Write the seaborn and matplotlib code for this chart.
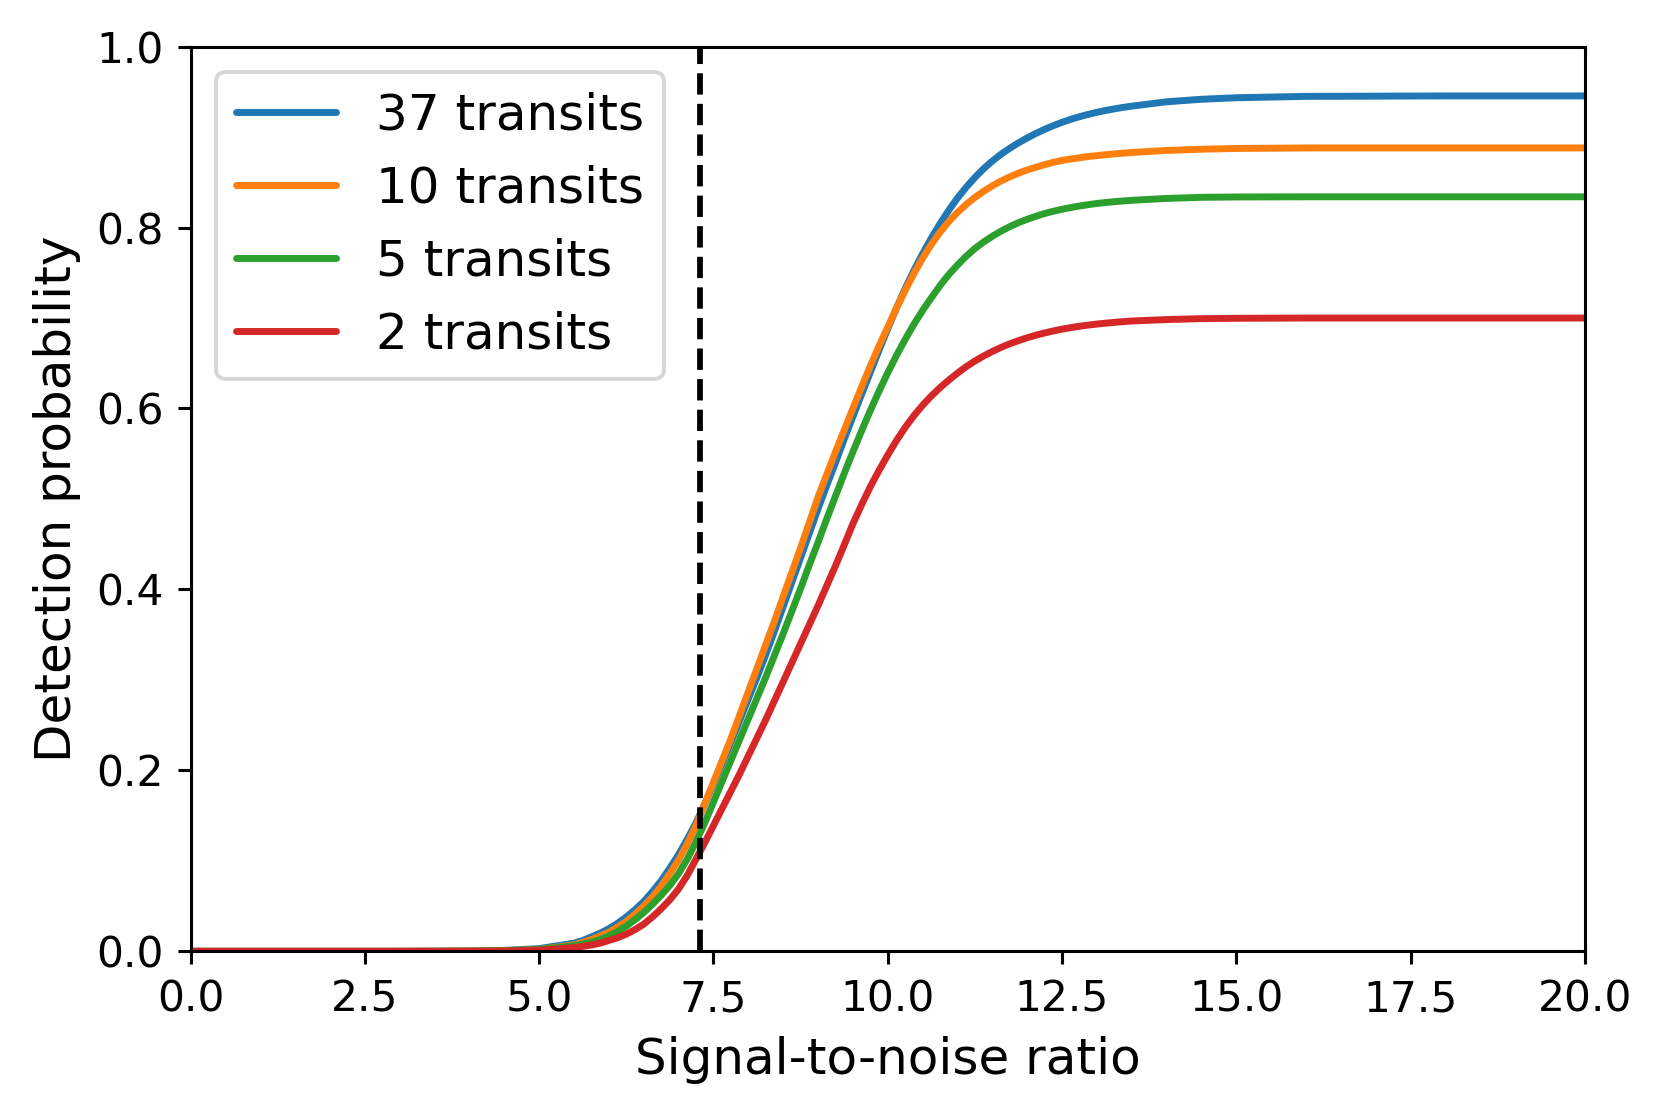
import numpy as np
import pandas as pd
import seaborn as sns
import matplotlib.pyplot as plt

# values (0.125 steps where the curves bend)
snr = [0, 1, 2, 3, 4, 4.5, 5,
       5.5, 5.625, 5.75, 5.875, 6, 6.125, 6.25, 6.375, 6.5, 6.625, 6.75, 6.875,
       7, 7.125, 7.25, 7.375, 7.5, 7.625, 7.75, 7.875, 8, 8.125, 8.25, 8.375,
       8.5, 8.625, 8.75, 8.875, 9, 9.125, 9.25, 9.375, 9.5, 9.625, 9.75, 9.875,
       10, 10.125, 10.25, 10.375, 10.5, 10.625, 10.75, 10.875, 11, 11.125, 11.25,
       11.375, 11.5, 11.625, 11.75, 11.875, 12, 12.125, 12.25, 12.375, 12.5,
       12.625, 12.75, 12.875, 13, 13.125, 13.25, 13.375, 13.5,
       14, 14.5, 15, 16, 18, 20]

p37 = [0, 0, 0, 0, 0.0003, 0.001, 0.003,
       0.009, 0.012, 0.016, 0.020, 0.025, 0.031, 0.038, 0.046, 0.055, 0.066, 0.078,
       0.092, 0.107, 0.124, 0.142, 0.163, 0.185, 0.208, 0.231, 0.255, 0.279, 0.303,
       0.328, 0.354, 0.381, 0.408, 0.435, 0.462, 0.489, 0.515, 0.540, 0.566, 0.591,
       0.6156, 0.640, 0.6643, 0.688, 0.7109, 0.7324, 0.7524, 0.7709, 0.7882, 0.8042,
       0.819, 0.8325, 0.8445, 0.8553, 0.8650, 0.8735, 0.8810, 0.8876, 0.8936,
       0.8990, 0.9040, 0.9085, 0.9126, 0.9163, 0.9196, 0.9225, 0.9251, 0.9274,
       0.9294, 0.9312, 0.9328, 0.9342,
       0.9390, 0.9418, 0.9435, 0.9450, 0.9455, 0.9455]
p10 = [0, 0, 0, 0, 0.0002, 0.0007, 0.002,
       0.007, 0.010, 0.013, 0.017, 0.021, 0.027, 0.033, 0.041, 0.050, 0.060, 0.072,
       0.086, 0.101, 0.119, 0.139, 0.163, 0.187, 0.211, 0.235, 0.261, 0.287, 0.313,
       0.339, 0.365, 0.392, 0.419, 0.446, 0.474, 0.502, 0.527, 0.552, 0.576, 0.600,
       0.6237, 0.647, 0.669, 0.690, 0.7108, 0.7306, 0.7491, 0.7661, 0.7814, 0.7948,
       0.8066, 0.8167, 0.8255, 0.8333, 0.8401, 0.8461, 0.8514, 0.856, 0.8601,
       0.8636, 0.8666, 0.8695, 0.8721, 0.8742, 0.8758, 0.8771, 0.8785, 0.8795,
       0.8805, 0.8814, 0.8822, 0.883,
       0.8852, 0.8866, 0.8874, 0.888, 0.888, 0.888]
p5 = [0, 0, 0, 0, 0.0002, 0.0006, 0.002,
      0.006, 0.008, 0.010, 0.013, 0.017, 0.022, 0.028, 0.035, 0.043, 0.052, 0.062,
      0.073, 0.086, 0.102, 0.121, 0.142, 0.165, 0.188, 0.211, 0.234, 0.257, 0.280,
      0.303, 0.327, 0.351, 0.376, 0.401, 0.427, 0.452, 0.478, 0.503, 0.528, 0.552,
      0.5753, 0.5977, 0.6191, 0.6394, 0.6585, 0.6764, 0.693, 0.7083, 0.7223,
      0.7358, 0.748, 0.7585, 0.7683, 0.7768, 0.784, 0.7904, 0.796, 0.801, 0.8054,
      0.8091, 0.8124, 0.8155, 0.8180, 0.8202, 0.8221, 0.8238, 0.8253, 0.8266,
      0.8277, 0.8286, 0.8294, 0.8301,
      0.8322, 0.8334, 0.8338, 0.834, 0.834, 0.834]
p2 = [0, 0, 0, 0, 0.0001, 0.0003, 0.0012,
      0.004, 0.0055, 0.007, 0.009, 0.012, 0.015, 0.019, 0.024, 0.030, 0.038, 0.047,
      0.057, 0.069, 0.084, 0.102, 0.120, 0.139, 0.158, 0.177, 0.196, 0.216, 0.236,
      0.256, 0.277, 0.298, 0.319, 0.340, 0.361, 0.382, 0.404, 0.426, 0.449, 0.4725,
      0.4935, 0.5135, 0.5315, 0.5485, 0.5645, 0.579, 0.592, 0.6035, 0.6138, 0.623,
      0.6313, 0.639, 0.6462, 0.6524, 0.658, 0.663, 0.6675, 0.6715, 0.675, 0.6782,
      0.681, 0.6835, 0.6857, 0.6877, 0.6894, 0.6909, 0.6922, 0.6933, 0.6943,
      0.6952, 0.696, 0.6967,
      0.6983, 0.6993, 0.6997, 0.700, 0.700, 0.700]

labels = ["37 transits", "10 transits", "5 transits", "2 transits"]
snr_threshold = 7.3

sns.set_style("ticks", rc={"axes.edgecolor": "black", "text.color": "black",
                           "axes.labelcolor": "black", "xtick.color": "black",
                           "ytick.color": "black", "xtick.direction": "out",
                           "ytick.direction": "out"})
plt.rcParams["font.family"] = ["DejaVu Sans"]

colors = sns.color_palette("tab10", 4)

fig = plt.figure(figsize=(1661 / 277, 1118 / 277), dpi=277)
ax = fig.add_axes([0.1148, 0.1491, 0.9541 - 0.1148, 0.9583 - 0.1491])

for vals, lab, c in zip([p37, p10, p5, p2], labels, colors):
    df = pd.DataFrame({"snr": snr, "prob": vals})
    sns.lineplot(data=df, x="snr", y="prob", color=c, label=lab, lw=1.8, ax=ax)

ax.axvline(snr_threshold, color="k", ls="--", lw=1.5)

ax.set_xlim(0, 20)
ax.set_ylim(0, 1)
ax.set_xticks(np.arange(0, 20.1, 2.5))
ax.set_yticks(np.arange(0, 1.01, 0.2))
ax.tick_params(labelsize=11, width=0.8, length=3.5)
for s in ax.spines.values():
    s.set_linewidth(0.8)
ax.set_xlabel("Signal-to-noise ratio", fontsize=13)
ax.set_ylabel("Detection probability", fontsize=13)
ax.legend(loc="upper left", fontsize=13, frameon=True, fancybox=True,
          framealpha=0.8, edgecolor="0.8")

fig.savefig("out.png", dpi=277)
print("Saved out.png")
